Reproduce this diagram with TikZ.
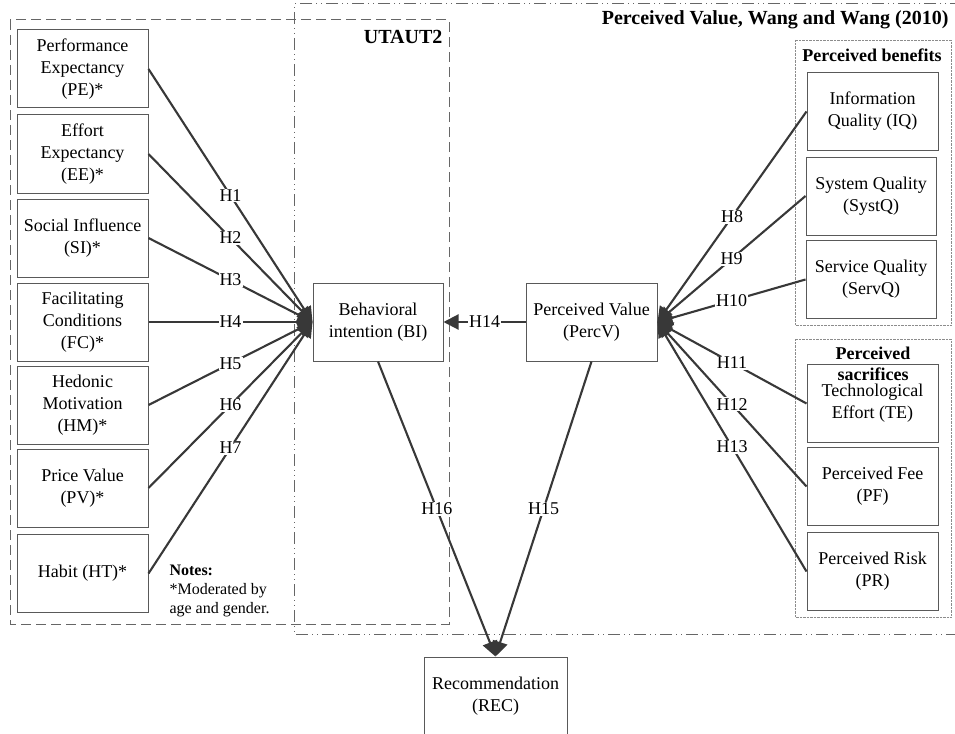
\documentclass[tikz,border=0pt]{standalone}
\usepackage{fontspec}
\setmainfont{Liberation Serif}
\usepackage{tikz}
\usetikzlibrary{arrows,arrows.meta}
\usepackage{color}

\begin{document}
\begin{tikzpicture}[x=1pt,y=-1pt]
\tikzset{construct/.style={draw=black!65,line width=1pt,minimum width=131pt,minimum height=78pt,align=center,inner sep=0pt,font=\fontsize{18}{22}\selectfont},
hyp/.style={draw=black!78,line width=2.1pt,-{Triangle[length=15pt,width=15pt]}},
hlabel/.style={fill=white,inner sep=1pt,font=\fontsize{18}{22}\selectfont},
grouptitle/.style={font=\fontsize{20}{24}\selectfont\bfseries}}
\useasboundingbox (0,0) rectangle (955,733);
% frames of the two models
\draw[black!60,line width=1pt,dash pattern=on 10pt off 5pt] (10,20) rectangle (449,624);
\draw[black!60,line width=1pt,dash pattern=on 12pt off 4pt on 1pt off 4pt on 1pt off 4pt] (962,4) -- (294,4) -- (294,634) -- (962,634);
\draw[black!45,densely dotted] (795,40) rectangle (951,325);
\draw[black!45,densely dotted] (795,339) rectangle (951,617);
\node[grouptitle,anchor=east] (utaut) at (446,37) {UTAUT2};
\node[grouptitle,anchor=east] (pvtitle) at (952,20) {Perceived Value, Wang and Wang (2010)};
\node[font=\fontsize{18}{21}\selectfont\bfseries] (benefits) at (872,55) {Perceived benefits};
% UTAUT2 constructs
\node[construct] (pe) at (82.5,69) {Performance\\Expectancy\\(PE)*};
\node[construct] (ee) at (82.5,154) {Effort\\Expectancy\\(EE)*};
\node[construct] (si) at (82.5,238) {Social Influence\\(SI)*};
\node[construct] (fc) at (82.5,322) {Facilitating\\Conditions\\(FC)*};
\node[construct] (hm) at (82.5,405) {Hedonic\\Motivation\\(HM)*};
\node[construct] (pv) at (82.5,488) {Price Value\\(PV)*};
\node[construct] (ht) at (82.5,573.5) {Habit (HT)*};
\node[construct,minimum width=130pt] (bi) at (378,322) {Behavioral\\intention (BI)};
\node[construct] (percv) at (591.5,322) {Perceived Value\\(PercV)};
\node[construct,minimum width=143pt] (rec) at (495.5,696) {Recommendation\\(REC)};
% perceived value constructs
\node[construct] (iq) at (872.5,111.5) {Information\\Quality (IQ)};
\node[construct,minimum width=130pt] (systq) at (871,196) {System Quality\\(SystQ)};
\node[construct,minimum width=130pt] (servq) at (871,279.5) {Service Quality\\(ServQ)};
\node[construct] (te) at (872.5,403.5) {Technological\\Effort (TE)};
\node[construct] (pf) at (872.5,486.5) {Perceived Fee\\(PF)};
\node[construct] (pr) at (872.5,571.5) {Perceived Risk\\(PR)};
\node[align=center,font=\fontsize{18}{21}\selectfont\bfseries] (sacrifices) at (873,364) {Perceived\\sacrifices};
\node[anchor=north west,align=left,font=\fontsize{16}{19}\selectfont] (notes) at (166,561) {\textbf{Notes:}\\*Moderated by\\age and gender.};
% hypotheses
\draw[hyp] (pe.east) -- node[hlabel]{H1} (bi.west);
\draw[hyp] (ee.east) -- node[hlabel]{H2} (bi.west);
\draw[hyp] (si.east) -- node[hlabel]{H3} (bi.west);
\draw[hyp] (fc.east) -- node[hlabel]{H4} (bi.west);
\draw[hyp] (hm.east) -- node[hlabel]{H5} (bi.west);
\draw[hyp] (pv.east) -- node[hlabel]{H6} (bi.west);
\draw[hyp] (ht.east) -- node[hlabel]{H7} (bi.west);
\draw[hyp] (iq.west) -- node[hlabel]{H8} (percv.east);
\draw[hyp] (systq.west) -- node[hlabel]{H9} (percv.east);
\draw[hyp] (servq.west) -- node[hlabel]{H10} (percv.east);
\draw[hyp] (te.west) -- node[hlabel]{H11} (percv.east);
\draw[hyp] (pf.west) -- node[hlabel]{H12} (percv.east);
\draw[hyp] (pr.west) -- node[hlabel]{H13} (percv.east);
\draw[hyp] (percv.west) -- node[hlabel]{H14} (bi.east);
\draw[hyp] (percv.south) -- node[hlabel]{H15} (rec.north);
\draw[hyp] (bi.south) -- node[hlabel]{H16} (rec.north);
\end{tikzpicture}
\end{document}
